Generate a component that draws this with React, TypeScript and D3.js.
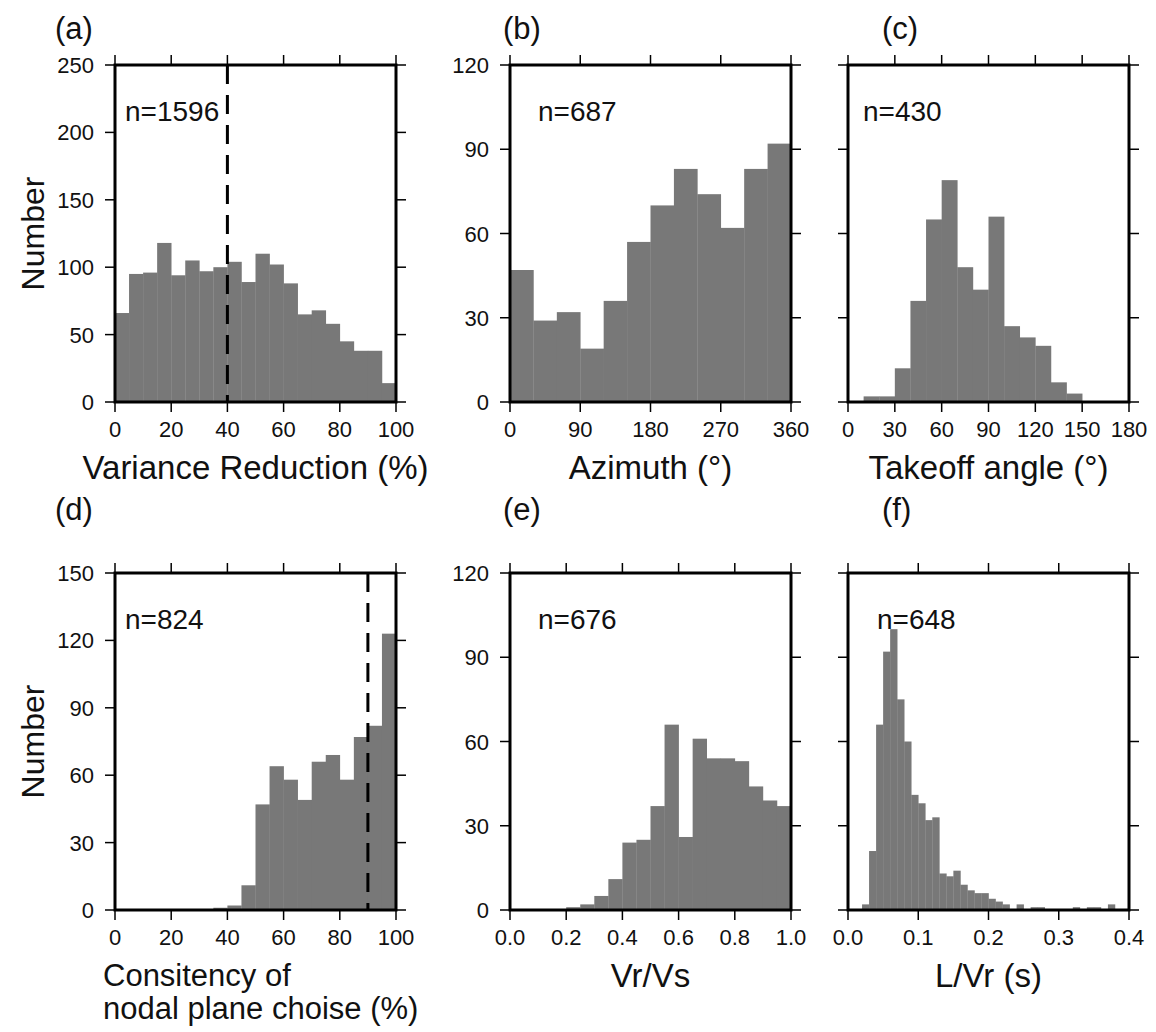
import React from "react";
import * as d3 from "d3";

// Histogram counts per bin, read left to right
const varianceReduction = [66, 95, 96, 118, 94, 105, 97, 100, 104, 89, 110, 102, 88, 65, 68, 58, 45, 38, 38, 14];
const azimuth = [47, 29, 32, 19, 36, 57, 70, 83, 74, 62, 83, 92];
const takeoffAngle = [0, 2, 2, 12, 36, 65, 79, 48, 40, 66, 27, 23, 20, 7, 3, 0, 0, 0];
const consistency = [0, 0, 0, 0, 0, 0, 0, 1, 2, 11, 47, 64, 58, 49, 66, 69, 58, 77, 82, 123];
const vrVs = [0, 0, 0, 0, 1, 2, 5, 11, 24, 25, 37, 66, 26, 61, 54, 54, 53, 44, 39, 37];
const lVr = [
  0, 0, 2, 21, 66, 92, 100, 75, 60, 41,
  38, 32, 33, 13, 12, 14, 9, 7, 6, 6,
  4, 3, 2, 0, 2, 0, 1, 1, 0, 0,
  0, 0, 1, 0, 1, 1, 0, 2, 0, 0,
];

// Axis ticks
const ticksPercent = [0, 20, 40, 60, 80, 100];
const ticksAzimuth = [0, 90, 180, 270, 360];
const ticksTakeoff = [0, 30, 60, 90, 120, 150, 180];
const ticksVrVs = [0, 0.2, 0.4, 0.6, 0.8, 1.0];
const ticksLVr = [0, 0.1, 0.2, 0.3, 0.4];
const ticksCount250 = [0, 50, 100, 150, 200, 250];
const ticksCount150 = [0, 30, 60, 90, 120, 150];
const ticksCount120 = [0, 30, 60, 90, 120];

const sampleSizes = [1596, 687, 430, 824, 676, 648];
const panelLetters = ["(a)", "(b)", "(c)", "(d)", "(e)", "(f)"];

const FONT = "'Liberation Sans', Arial, Helvetica, sans-serif";
const BAR = "#787878";
const PW = 281;
const PH = 337;
const COLS = [115, 510, 848];
const ROWS = [65, 573];

type PanelSpec = {
  left: number;
  top: number;
  counts: number[];
  x0: number;
  bin: number;
  xDomain: [number, number];
  xTicks: number[];
  xFmt: (v: number) => string;
  yMax: number;
  yTicks: number[];
  yLabels: boolean;
  title: string[];
  letter: string;
  letterX: number;
  letterY: number;
  n: number;
  nX: number;
  dashAt?: number;
  ylabel?: boolean;
};

const intFmt = (v: number) => String(v);
const dec1 = d3.format(".1f");

const panels: PanelSpec[] = [
  {
    left: COLS[0], top: ROWS[0], counts: varianceReduction, x0: 0, bin: 5, xDomain: [0, 100],
    xTicks: ticksPercent, xFmt: intFmt, yMax: 250, yTicks: ticksCount250, yLabels: true,
    title: ["Variance Reduction (%)"], letter: panelLetters[0], letterX: 55, letterY: 39,
    n: sampleSizes[0], nX: 125, dashAt: 40, ylabel: true,
  },
  {
    left: COLS[1], top: ROWS[0], counts: azimuth, x0: 0, bin: 30, xDomain: [0, 360],
    xTicks: ticksAzimuth, xFmt: intFmt, yMax: 120, yTicks: ticksCount120, yLabels: true,
    title: ["Azimuth (°)"], letter: panelLetters[1], letterX: 503, letterY: 39,
    n: sampleSizes[1], nX: 538,
  },
  {
    left: COLS[2], top: ROWS[0], counts: takeoffAngle, x0: 0, bin: 10, xDomain: [0, 180],
    xTicks: ticksTakeoff, xFmt: intFmt, yMax: 120, yTicks: ticksCount120, yLabels: false,
    title: ["Takeoff angle (°)"], letter: panelLetters[2], letterX: 882, letterY: 39,
    n: sampleSizes[2], nX: 863,
  },
  {
    left: COLS[0], top: ROWS[1], counts: consistency, x0: 0, bin: 5, xDomain: [0, 100],
    xTicks: ticksPercent, xFmt: intFmt, yMax: 150, yTicks: ticksCount150, yLabels: true,
    title: ["Consitency of", "nodal plane choise (%)"], letter: panelLetters[3], letterX: 55, letterY: 520,
    n: sampleSizes[3], nX: 125, dashAt: 90, ylabel: true,
  },
  {
    left: COLS[1], top: ROWS[1], counts: vrVs, x0: 0, bin: 0.05, xDomain: [0, 1],
    xTicks: ticksVrVs, xFmt: dec1, yMax: 120, yTicks: ticksCount120, yLabels: true,
    title: ["Vr/Vs"], letter: panelLetters[4], letterX: 503, letterY: 520,
    n: sampleSizes[4], nX: 538,
  },
  {
    left: COLS[2], top: ROWS[1], counts: lVr, x0: 0, bin: 0.01, xDomain: [0, 0.4],
    xTicks: ticksLVr, xFmt: dec1, yMax: 120, yTicks: ticksCount120, yLabels: false,
    title: ["L/Vr (s)"], letter: panelLetters[5], letterX: 882, letterY: 520,
    n: sampleSizes[5], nX: 877,
  },
];

function Histogram({ p }: { p: PanelSpec }) {
  const x = d3.scaleLinear().domain(p.xDomain).range([p.left, p.left + PW]);
  const y = d3.scaleLinear().domain([0, p.yMax]).range([p.top + PH, p.top]);
  const bottom = p.top + PH;
  const right = p.left + PW;
  const tick = 10;

  return (
    <g>
      {p.counts.map((c, i) =>
        c > 0 ? (
          <rect
            key={i}
            x={x(p.x0 + i * p.bin)}
            y={y(c)}
            width={x(p.x0 + (i + 1) * p.bin) - x(p.x0 + i * p.bin) + 0.3}
            height={y(0) - y(c)}
            fill={BAR}
          />
        ) : null
      )}
      {p.dashAt !== undefined && (
        <line
          x1={x(p.dashAt)}
          x2={x(p.dashAt)}
          y1={y(p.yMax)}
          y2={y(0)}
          stroke="#000"
          strokeWidth={3}
          strokeDasharray="19 11"
        />
      )}
      {/* x ticks, bottom and top */}
      {p.xTicks.map((t) => (
        <g key={"x" + t}>
          <line x1={x(t)} x2={x(t)} y1={bottom} y2={bottom + tick} stroke="#000" strokeWidth={1.5} />
          <line x1={x(t)} x2={x(t)} y1={p.top} y2={p.top - tick} stroke="#000" strokeWidth={1.5} />
          <text x={x(t)} y={bottom + 35} textAnchor="middle" fontSize={22} fontFamily={FONT} fill="#111">
            {p.xFmt(t)}
          </text>
        </g>
      ))}
      {/* y ticks, left and right */}
      {p.yTicks.map((t) => (
        <g key={"y" + t}>
          <line x1={p.left} x2={p.left - tick} y1={y(t)} y2={y(t)} stroke="#000" strokeWidth={1.5} />
          <line x1={right} x2={right + tick} y1={y(t)} y2={y(t)} stroke="#000" strokeWidth={1.5} />
          {p.yLabels && (
            <text x={p.left - 21} y={y(t) + 8} textAnchor="end" fontSize={22} fontFamily={FONT} fill="#111">
              {t}
            </text>
          )}
        </g>
      ))}
      <rect x={p.left} y={p.top} width={PW} height={PH} fill="none" stroke="#000" strokeWidth={3} />
      <text x={p.nX} y={p.top + 56} fontSize={28} fontFamily={FONT} fill="#111">
        n={p.n}
      </text>
      <text x={p.letterX} y={p.letterY} fontSize={31} fontFamily={FONT} fill="#111">
        {p.letter}
      </text>
      {p.title.length === 1 ? (
        <text x={(p.left + right) / 2} y={bottom + 77} textAnchor="middle" fontSize={33} fontFamily={FONT} fill="#111">
          {p.title[0]}
        </text>
      ) : (
        p.title.map((line, i) => (
          <text key={i} x={103} y={bottom + 76 + i * 33} fontSize={31} fontFamily={FONT} fill="#111">
            {line}
          </text>
        ))
      )}
      {p.ylabel && (
        <text
          transform={`translate(44,${p.top + PH / 2}) rotate(-90)`}
          textAnchor="middle"
          fontSize={32}
          fontFamily={FONT}
          fill="#111"
        >
          Number
        </text>
      )}
    </g>
  );
}

export default function App() {
  return (
    <svg
      width={1156}
      height={1032}
      viewBox="0 0 1156 1032"
      style={{ position: "absolute", left: 0, top: 0, background: "#fff" }}
    >
      <rect width={1156} height={1032} fill="#fff" />
      {panels.map((p, i) => (
        <Histogram key={i} p={p} />
      ))}
    </svg>
  );
}
